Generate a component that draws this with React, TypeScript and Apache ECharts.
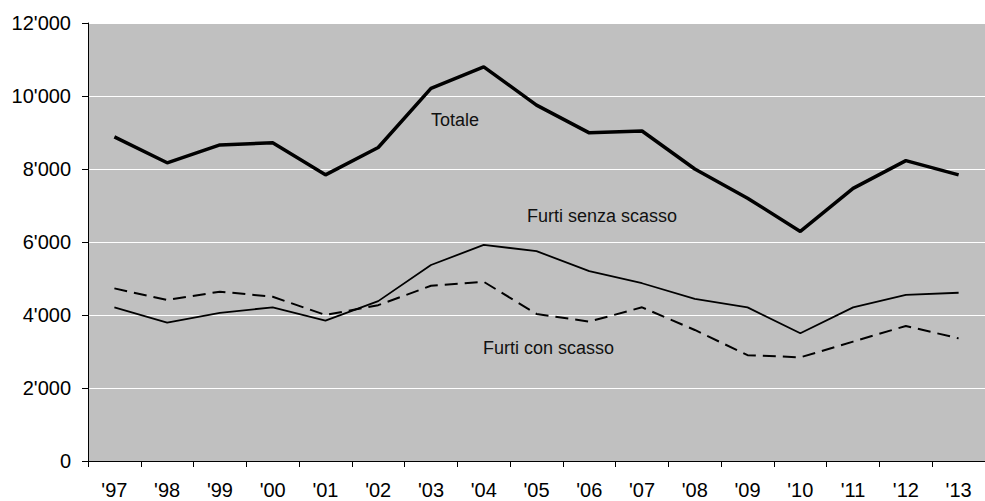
import React, { useEffect, useRef } from "react";
import * as echarts from "echarts";

const categories = ["'97", "'98", "'99", "'00", "'01", "'02", "'03", "'04", "'05", "'06", "'07", "'08", "'09", "'10", "'11", "'12", "'13"];
const totale = [8880, 8170, 8660, 8720, 7840, 8590, 10210, 10800, 9750, 8990, 9040, 8000, 7200, 6290, 7470, 8230, 7840];
const senzaScasso = [4210, 3790, 4060, 4210, 3845, 4380, 5370, 5920, 5750, 5200, 4870, 4440, 4210, 3500, 4210, 4550, 4610];
const conScasso = [4730, 4410, 4640, 4500, 4000, 4270, 4800, 4910, 4030, 3820, 4210, 3590, 2900, 2840, 3270, 3700, 3360];
const seriesLabels = ["Totale", "Furti senza scasso", "Furti con scasso"];

const FONT = "'Liberation Sans', Arial, sans-serif";

export default function App() {
  const ref = useRef<HTMLDivElement>(null);
  useEffect(() => {
    document.body.style.margin = "0";
    if (!ref.current) return;
    const chart = echarts.init(ref.current, null, { renderer: "svg" });
    chart.setOption({
      animation: false,
      backgroundColor: "#ffffff",
      textStyle: { fontFamily: FONT },
      grid: {
        left: 88,
        top: 23,
        bottom: 40,
        width: 901,
        show: true,
        backgroundColor: "#c0c0c0",
        borderWidth: 0,
      },
      xAxis: {
        type: "category",
        data: categories,
        boundaryGap: true,
        axisLine: { show: true, lineStyle: { color: "#000", width: 1 } },
        axisTick: { show: true, alignWithLabel: false, length: 6, lineStyle: { color: "#000" } },
        axisLabel: { color: "#000", fontSize: 20, fontFamily: FONT, margin: 19, interval: 0 },
        splitLine: { show: false },
      },
      yAxis: {
        type: "value",
        min: 0,
        max: 12000,
        interval: 2000,
        axisLine: { show: true, lineStyle: { color: "#000", width: 1 } },
        axisTick: { show: true, length: 6, lineStyle: { color: "#000" } },
        axisLabel: {
          color: "#000",
          fontSize: 20,
          fontFamily: FONT,
          margin: 17,
          formatter: (v: number) => String(v).replace(/\B(?=(\d{3})+(?!\d))/g, "'"),
        },
        splitLine: { show: true, lineStyle: { color: "#ffffff", width: 1 } },
      },
      series: [
        {
          name: seriesLabels[0],
          type: "line",
          data: totale,
          symbol: "none",
          lineStyle: { color: "#000", width: 3.5 },
        },
        {
          name: seriesLabels[1],
          type: "line",
          data: senzaScasso,
          symbol: "none",
          lineStyle: { color: "#000", width: 1.8 },
        },
        {
          name: seriesLabels[2],
          type: "line",
          data: conScasso,
          symbol: "none",
          lineStyle: { color: "#000", width: 2, type: [13, 7] },
        },
      ],
      graphic: [
        {
          type: "text",
          left: 431,
          top: 111,
          style: { text: seriesLabels[0], fill: "#111", font: `18px ${FONT}` },
        },
        {
          type: "text",
          left: 527,
          top: 207,
          style: { text: seriesLabels[1], fill: "#111", font: `18px ${FONT}` },
        },
        {
          type: "text",
          left: 483,
          top: 339,
          style: { text: seriesLabels[2], fill: "#111", font: `18px ${FONT}` },
        },
      ],
    });
    return () => chart.dispose();
  }, []);
  return <div ref={ref} style={{ width: 985, height: 501 }} />;
}
